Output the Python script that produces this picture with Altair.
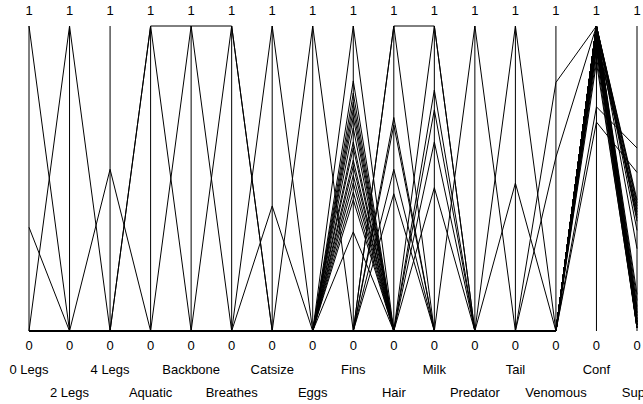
import altair as alt
import pandas as pd

# Parallel coordinates of association rules: one axis per item, then confidence and support
axes = ["0 Legs", "2 Legs", "4 Legs", "Aquatic", "Backbone", "Breathes", "Catsize",
        "Eggs", "Fins", "Hair", "Milk", "Predator", "Tail", "Venomous", "Conf", "Supp"]

# Items present in each rule (joined with "+") and the level drawn on those axes
rule_antecedent = (
    ["0 Legs", "0 Legs", "2 Legs", "4 Legs", "Aquatic", "Aquatic+Backbone+Breathes",
     "Backbone", "Breathes", "Catsize", "Catsize", "Eggs"]
    + ["Fins"] * 16
    + ["Hair"] * 5
    + ["Hair+Milk"]
    + ["Milk"] * 5
    + ["Predator", "Tail", "Tail", "Venomous", "Venomous"]
)
rule_level = [
    1.0, 0.34, 1.0, 0.53, 1.0, 1.0, 1.0, 1.0, 1.0, 0.41, 1.0,
    1.0, 0.82, 0.78, 0.75, 0.725, 0.70, 0.665, 0.62, 0.60, 0.56, 0.54, 0.51, 0.485, 0.455, 0.43, 0.325,
    1.0, 0.70, 0.675, 0.53, 0.45,
    1.0,
    1.0, 0.79, 0.725, 0.62, 0.47,
    1.0, 1.0, 0.485, 0.815, 0.57,
]
rule_conf = [
    1.0, 0.97, 1.0, 0.95, 1.0, 1.0, 1.0, 0.96, 1.0, 0.93, 1.0,
    1.0, 1.0, 0.98, 1.0, 0.96, 1.0, 0.94, 1.0, 0.92, 1.0, 0.97, 0.90, 1.0, 0.95, 1.0, 0.88,
    1.0, 0.735, 1.0, 0.96, 0.685,
    1.0,
    1.0, 1.0, 0.97, 1.0, 0.93,
    1.0, 1.0, 0.95, 1.0, 1.0,
]
rule_sup = [
    0.05, 0.02, 0.12, 0.40, 0.10, 0.03, 0.42, 0.38, 0.27, 0.04, 0.36,
    0.08, 0.02, 0.01, 0.03, 0.01, 0.02, 0.04, 0.01, 0.03, 0.02, 0.05, 0.01, 0.02, 0.03, 0.01, 0.02,
    0.39, 0.60, 0.06, 0.03, 0.52,
    0.37,
    0.41, 0.07, 0.02, 0.04, 0.01,
    0.33, 0.43, 0.06, 0.02, 0.03,
]

rows = []
for rid, (ante, lvl, conf, sup) in enumerate(zip(rule_antecedent, rule_level, rule_conf, rule_sup)):
    items = ante.split("+")
    for i, name in enumerate(axes):
        if name == "Conf":
            v = conf
        elif name == "Supp":
            v = sup
        else:
            v = lvl if name in items else 0.0
        rows.append({"rule": rid, "pos": i, "value": v})
lines_df = pd.DataFrame(rows)

axis_df = pd.DataFrame({
    "pos": list(range(len(axes))),
    "name": axes,
    "row": [i % 2 for i in range(len(axes))],
    "top": [1.0] * len(axes),
    "bottom": [0.0] * len(axes),
})

xs = alt.Scale(domain=[0, len(axes) - 1])
ys = alt.Scale(domain=[0, 1])
FONT = "Liberation Sans"

axis_lines = alt.Chart(axis_df).mark_rule(color="black", strokeWidth=1).encode(
    x=alt.X("pos:Q", scale=xs, axis=None),
    y=alt.Y("top:Q", scale=ys, axis=None),
    y2="bottom:Q",
)

rule_lines = alt.Chart(lines_df).mark_line(color="black", strokeWidth=1).encode(
    x=alt.X("pos:Q", scale=xs, axis=None),
    y=alt.Y("value:Q", scale=ys, axis=None),
    detail="rule:N",
    order="pos:Q",
)

base_text = alt.Chart(axis_df).mark_text(font=FONT, fontSize=13, color="black", baseline="middle", align="center")

one_labels = base_text.encode(x=alt.X("pos:Q", scale=xs, axis=None), y=alt.value(-15), text=alt.value("1"))
zero_labels = base_text.encode(x=alt.X("pos:Q", scale=xs, axis=None), y=alt.value(320), text=alt.value("0"))
names_top = base_text.transform_filter("datum.row == 0").encode(
    x=alt.X("pos:Q", scale=xs, axis=None), y=alt.value(344), text="name:N")
names_bottom = base_text.transform_filter("datum.row == 1").encode(
    x=alt.X("pos:Q", scale=xs, axis=None), y=alt.value(367), text="name:N")

chart = alt.layer(axis_lines, rule_lines, one_labels, zero_labels, names_top, names_bottom).properties(
    width=608,
    height=305,
    padding={"left": 29, "top": 26, "right": 6, "bottom": 73},
    autosize=alt.AutoSizeParams(type="none"),
    background="white",
).configure_view(stroke=None)

chart.save("out.html", embed_options={"renderer": "svg", "actions": False})
